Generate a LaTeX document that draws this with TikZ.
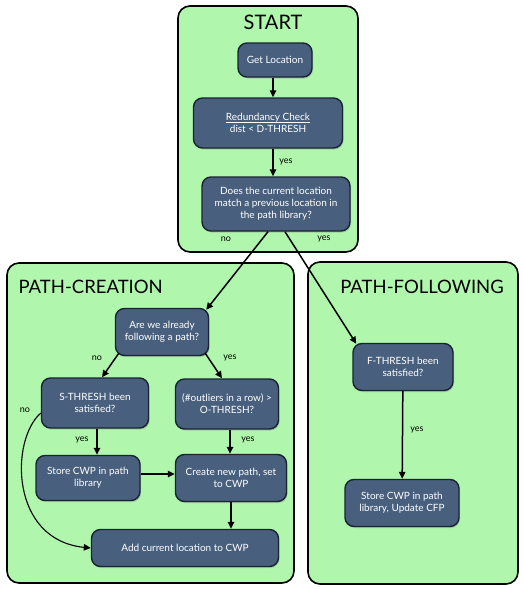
\documentclass[tikz,border=0pt]{standalone}
\usepackage{fontspec}
\setmainfont{Lato}
\usetikzlibrary{positioning,arrows.meta,shadows,calc}
\definecolor{panelgreen}{RGB}{176,246,172}
\definecolor{boxslate}{RGB}{72,96,126}
\definecolor{boxedge}{RGB}{25,35,50}
\newlength\ulwd
\newcommand\tightul[1]{\settowidth\ulwd{#1}\rlap{\rule[-1.8pt]{\ulwd}{0.5pt}}#1}

\begin{document}
\begin{tikzpicture}[x=1pt,y=-1pt,font=\fontsize{10}{12}\selectfont,
                panel/.style={draw=black,line width=1.6pt,fill=panelgreen,
                              rounded corners=12pt},
                title/.style={font=\fontsize{18.5}{22}\selectfont},
                box/.style={rectangle,draw=boxedge,line width=1.4pt,
                            fill=boxslate,text=white,rounded corners=9pt,
                            align=center,inner sep=2pt,
                            drop shadow={opacity=0.35,shadow xshift=1pt,
                                         shadow yshift=-1.5pt}},
                arr/.style={-{Triangle[length=7pt,width=6.5pt]},line width=1.5pt},
                lbl/.style={font=\fontsize{9}{10}\selectfont}]
                \useasboundingbox (0,0) rectangle (523,589);
                \fill[white] (0,0) rectangle (523,589);
                % panels
                \draw[panel] (178,6) rectangle (358,252);
                \draw[panel] (7,263) rectangle (294,583);
                \draw[panel] (308,262) rectangle (518,584);
                \node[title,font=\fontsize{20}{24}\selectfont] (tstart) at (273,22) {START};
                \node[title,anchor=west] (tcreate) at (15,287) {PATH-CREATION};
                \node[title] (tfollow) at (422,287) {PATH-FOLLOWING};
                % start
                \node[box,minimum width=74pt,minimum height=34pt]
                           (loc)   at (275,60)  {Get Location};
                \node[box,minimum width=149pt,minimum height=50pt]
                           (redund) at (268,123) {\tightul{Redundancy Check}\\dist < D-THRESH};
                \node[box,minimum width=148pt,minimum height=54pt]
                           (match) at (276,204) {Does the current location\\match a previous location in\\the path library?};
                % path creation
                \node[box,minimum width=93pt,minimum height=47pt]
                           (follow) at (162,332) {Are we already\\following a path?};
                \node[box,minimum width=107pt,minimum height=50pt]
                           (sthresh) at (95,403) {S-THRESH been\\satisfied?};
                \node[box,minimum width=103pt,minimum height=50pt]
                           (othresh) at (227,404) {(\#outliers in a row) >\\O-THRESH?};
                \node[box,minimum width=104pt,minimum height=45pt]
                           (store) at (88,478) {Store CWP in path\\library};
                \node[box,minimum width=111pt,minimum height=47pt]
                           (newpath) at (231,478) {Create new path, set\\to CWP};
                \node[box,minimum width=187pt,minimum height=37pt]
                           (addloc) at (185,548) {Add current location to CWP};
                % path following
                \node[box,minimum width=100pt,minimum height=47pt]
                           (fthresh) at (403,367) {F-THRESH been\\satisfied?};
                \node[box,minimum width=114pt,minimum height=47pt]
                           (update) at (402,503) {Store CWP in path\\library, Update CFP};
                % connectors
                \draw[arr] ([xshift=-2pt]loc.south) -- ([xshift=-2pt]loc.south |- redund.north);
                \draw[arr] ([xshift=-3pt]match.north |- redund.south) -- ([xshift=-3pt]match.north);
                \draw[arr] ([xshift=-8pt]match.south) -- ([xshift=-3pt,yshift=-2pt]follow.north east);
                \draw[arr] ([xshift=9pt]match.south) -- ([xshift=4pt,yshift=-1pt]fthresh.north west);
                \draw[arr] ([xshift=4pt,yshift=3pt]follow.south west) -- ([xshift=7pt]sthresh.north);
                \draw[arr] ([xshift=-4pt,yshift=3pt]follow.south east) -- ([xshift=-5pt]othresh.north);
                \draw[arr] ([xshift=2pt]sthresh.south) -- ([xshift=2pt]sthresh.south |- store.north);
                \draw[arr] ([xshift=3pt]othresh.south) -- ([xshift=3pt]othresh.south |- newpath.north);
                \draw[arr] ([yshift=4pt]store.east) -- ([yshift=4pt]newpath.west);
                \draw[arr] (newpath.south) -- (newpath.south |- addloc.north);
                \draw[arr,line width=1.1pt] ([yshift=-10pt]sthresh.west) .. controls (10,440) and (10,540) .. (addloc.west);
                \draw[arr] (fthresh) -- (update);
                % labels
                \node[lbl] (y1) at (286,162) {yes};
                \node[lbl] (n1) at (226,239) {no};
                \node[lbl] (y2) at (324,239) {yes};
                \node[lbl] (n2) at (97,358) {no};
                \node[lbl] (y3) at (230,358) {yes};
                \node[lbl] (n3) at (25,410) {no};
                \node[lbl] (y4) at (82,440) {yes};
                \node[lbl] (y5) at (248,440) {yes};
                \node[lbl] (y6) at (417,430) {yes};
            \end{tikzpicture}
\end{document}
